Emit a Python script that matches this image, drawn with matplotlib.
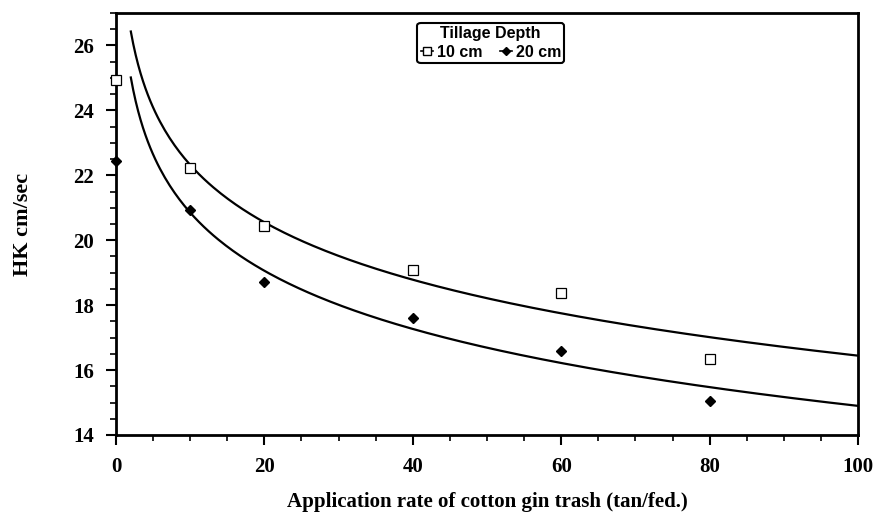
import matplotlib.pyplot as plt
import numpy as np
from matplotlib.lines import Line2D
from matplotlib.ticker import MultipleLocator

# data
rate = [0, 10, 20, 40, 60, 80]
hk_10cm = [24.93, 22.22, 20.43, 19.08, 18.36, 16.33]
hk_20cm = [22.43, 20.93, 18.70, 17.60, 16.58, 15.06]
depth_labels = ["10 cm", "20 cm"]

serif = {"family": "Liberation Serif", "weight": "bold"}

fig = plt.figure(figsize=(8.76, 5.14), dpi=100)
ax = fig.add_axes([0.1324, 0.1537, 0.8471, 0.821])

# logarithmic trend lines fitted to the non-zero rates (as in the original)
xr = np.array(rate[1:], dtype=float)
xc = np.linspace(2.0, 100, 300)
for hk in (hk_10cm, hk_20cm):
    b, a = np.polyfit(np.log(xr), np.array(hk[1:]), 1)
    ax.plot(xc, a + b * np.log(xc), color='black', linewidth=1.6, zorder=2)

ax.plot(rate, hk_10cm, linestyle='none', marker='s', markersize=7,
        markerfacecolor='white', markeredgecolor='black', markeredgewidth=0.9,
        clip_on=False, zorder=3)
ax.plot(rate, hk_20cm, linestyle='none', marker='D', markersize=5,
        color='black', clip_on=False, zorder=3)

ax.set_xlim(0, 100)
ax.set_ylim(14, 27)
ax.xaxis.set_major_locator(MultipleLocator(20))
ax.xaxis.set_minor_locator(MultipleLocator(5))
ax.yaxis.set_major_locator(MultipleLocator(2))
ax.yaxis.set_minor_locator(MultipleLocator(0.5))
ax.tick_params(which='major', direction='out', length=7, width=1.5)
ax.tick_params(which='minor', direction='out', length=4.5, width=1.2)
ax.tick_params(axis='x', pad=8.5)
ax.tick_params(axis='y', pad=9)
for s in ax.spines.values():
    s.set_linewidth(2)

for lab in ax.get_xticklabels() + ax.get_yticklabels():
    lab.set_fontfamily("Liberation Serif")
    lab.set_fontweight("bold")
    lab.set_fontsize(15)

ax.set_xlabel("Application rate of cotton gin trash (tan/fed.)", fontsize=15,
              labelpad=11, **serif)
ax.set_ylabel("HK cm/sec", fontsize=16, labelpad=29, **serif)

handles = [
    Line2D([], [], color='black', linewidth=1.2, marker='s', markersize=6,
           markerfacecolor='white'),
    Line2D([], [], color='black', linewidth=1.2, marker='D', markersize=4),
]
leg = ax.legend(handles, depth_labels, title="Tillage Depth", ncol=2,
                loc='upper center', bbox_to_anchor=(0.505, 0.976),
                borderaxespad=0, handlelength=0.8, handletextpad=0.2,
                columnspacing=1.1, borderpad=0.2, labelspacing=0.2,
                fancybox=True, framealpha=1,
                prop={"family": "Liberation Sans", "weight": "bold", "size": 11.5})
leg.get_title().set_fontfamily("Liberation Sans")
leg.get_title().set_fontweight("bold")
leg.get_title().set_fontsize(11.5)
leg.get_frame().set_edgecolor('black')
leg.get_frame().set_linewidth(1.5)

fig.savefig("out.png", dpi=100)
